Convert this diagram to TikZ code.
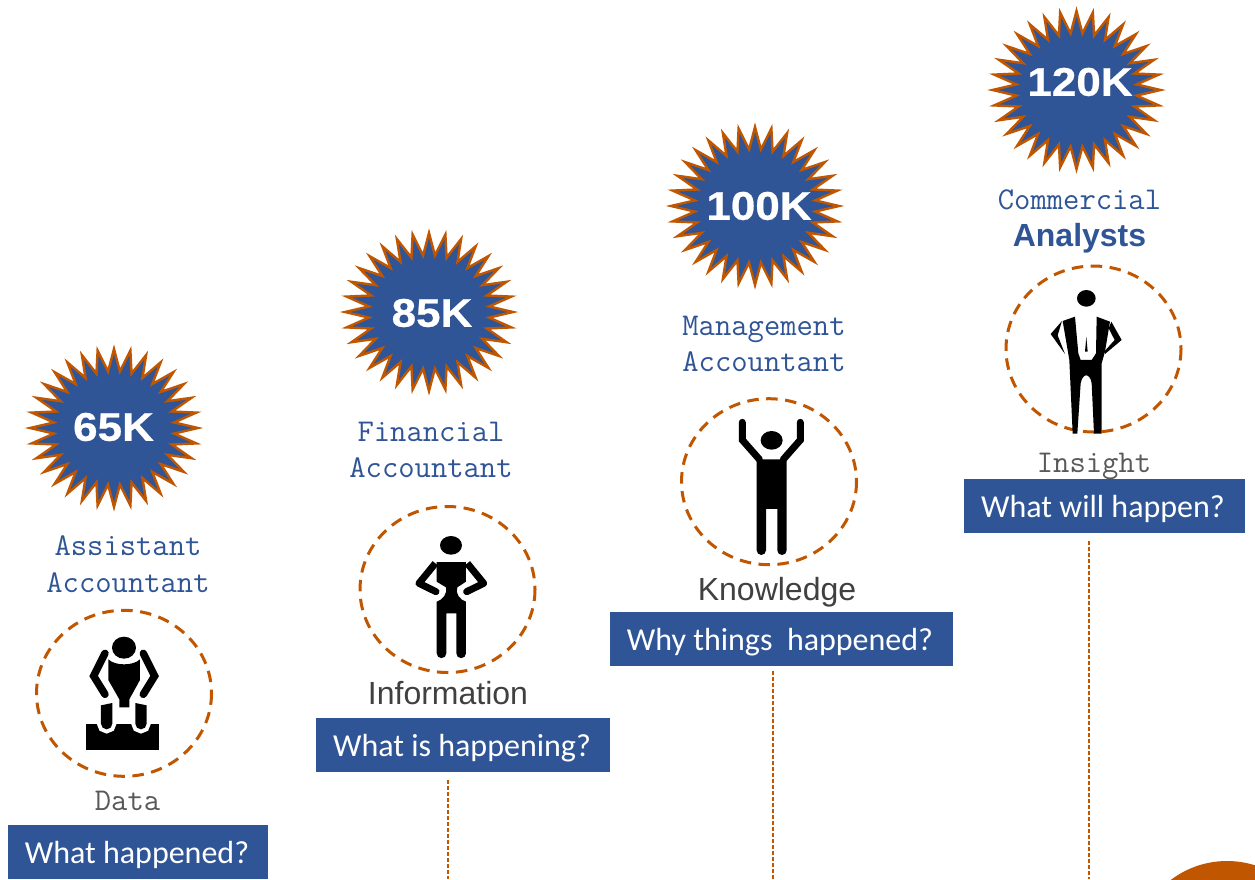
\documentclass[tikz,border=0pt]{standalone}
\usepackage{fontspec}
\setmainfont{Liberation Sans}
\newfontfamily\boxfont{Carlito}
\newfontfamily\salaryfont[FakeStretch=1.1,FakeBold=0.6]{Liberation Sans Bold}
\definecolor{nblue}{HTML}{2F5597}
\definecolor{norange}{HTML}{C05700}
\definecolor{ngray}{HTML}{404040}
\definecolor{nmid}{HTML}{595959}
\tikzset{
  qbox/.style={text=white,inner sep=0pt,font=\boxfont\fontsize{32}{36}\selectfont},
  qfill/.style={fill=nblue},
  jobtext/.style={text=nblue,align=center,inner sep=0pt,font=\ttfamily\fontsize{31.7}{36.5}\selectfont},
  stagemono/.style={text=nmid,inner sep=0pt,font=\ttfamily\fontsize{31.7}{36}\selectfont},
  stagesans/.style={text=ngray,inner sep=0pt,font=\fontsize{32}{36}\selectfont},
  salary/.style={text=white,inner sep=0pt,font=\salaryfont\fontsize{40}{46}\selectfont},
  ring/.style={draw=norange,line width=3pt,dash pattern=on 11.5pt off 7.5pt},
  guide/.style={draw=norange,line width=1.2pt,dash pattern=on 4pt off 2pt},
  burst/.style={fill=nblue,draw=norange,line width=2.4pt,miter limit=10},
  fig/.style={fill=black,draw=none},
  limb/.style={draw=black,fill=none,line cap=round,line join=miter}
}
\newcommand{\starburst}[2]{%
  \begin{scope}[shift={(#1,#2)}]
  \draw[burst] (0:84 and 79)
    \foreach \k in {1,...,63}{ -- ({\k*5.625}:{84*(0.72+0.28*mod(\k+1,2))} and {79*(0.72+0.28*mod(\k+1,2))}) } -- cycle;
  \end{scope}}
\begin{document}
\begin{tikzpicture}[x=1pt,y=-1pt]
\useasboundingbox (0,0) rectangle (1255,879);
\clip (0,0) rectangle (1255,879);
\fill[white] (0,0) rectangle (1255,879);

% corner shape
\fill[norange] (1227,954) circle (93);

% stars
\starburst{114}{428}
\starburst{429}{312}
\starburst{755}{206}
\starburst{1076.5}{90}
\node[salary] (s1) at (113.5,427) {65K};
\node[salary] (s2) at (432,313) {85K};
\node[salary] (s3) at (759,206) {100K};
\node[salary] (s4) at (1080,82) {120K};

% job labels
\node[jobtext] (j1) at (128,564) {Assistant\\Accountant};
\node[jobtext] (j2) at (431,450) {Financial\\Accountant};
\node[jobtext] (j3) at (764,344) {Management\\Accountant};
\node[jobtext] (j4) at (1079.5,221.5) {Commercial\\{\rmfamily\bfseries\fontsize{32}{36}\selectfont Analysts}};

% rings
\draw[ring] (124,693.3) ellipse (87.5 and 83);
\draw[ring] (447.5,589.5) ellipse (87.5 and 83);
\draw[ring] (769,481.7) ellipse (87.5 and 83);
\draw[ring] (1093.5,349) ellipse (87.5 and 83);

% figure 1
\begin{scope}[shift={(0,600)},x=0.3333pt,y=-0.3333pt]
  \fill[fig] (259,371) rectangle (476,449);
  \fill[fig] (372,143) ellipse (36 and 33);
  \fill[fig] (325,178) .. controls (345,198) and (400,198) .. (420,178)
    -- (420,240) -- (388,298) -- (388,322) -- (358,322) -- (358,298) -- (325,240) -- cycle;
  \draw[limb,line width=7.5pt] (315,160) -- (281,228) -- (315,283);
  \draw[limb,line width=7.5pt] (430,160) -- (464,228) -- (430,283);
  \draw[white,line width=8pt,fill=black] (303,316) -- (337,309) -- (337,371)
     arc (0:180:17) -- cycle;
  \draw[white,line width=8pt,fill=black] (406,309) -- (440,316) -- (440,371)
     arc (0:180:17) -- cycle;
  \fill[fig] (303,316) -- (337,309) -- (337,371) arc (0:180:17) -- cycle;
  \fill[fig] (406,309) -- (440,316) -- (440,371) arc (0:180:17) -- cycle;
\end{scope}

% figure 2
\begin{scope}[shift={(340,500)},x=0.3333pt,y=-0.3333pt]
  \fill[fig] (333,136) ellipse (33 and 28);
  \fill[fig] (290,186) -- (378,186) -- (378,245) -- (352,262)
    .. controls (345,280) and (360,300) .. (378,305)
    -- (378,460) arc (0:180:14.5) -- (349,340) -- (319,340) -- (319,460) arc (0:180:14.5)
    -- (290,305) .. controls (308,300) and (323,280) .. (318,262) -- (290,245) -- cycle;
  \draw[limb,line width=7pt,line cap=butt] (286,190) -- (237,250);
  \draw[limb,line width=7pt] (237,250) -- (288,275);
  \draw[limb,line width=7pt,line cap=butt] (382,190) -- (431,250);
  \draw[limb,line width=7pt] (431,250) -- (380,275);
\end{scope}

% figure 3
\begin{scope}[shift={(670,390)},x=0.3333pt,y=-0.3333pt]
  \fill[fig] (305,151) ellipse (33 and 28);
  \fill[fig] (260,208) -- (350,208) -- (350,481) arc (0:180:14) -- (322,357) -- (288,357)
    -- (288,481) arc (0:180:14) -- cycle;
  \draw[limb,line width=7pt] (217,97) -- (217,150) -- (268,208);
  \draw[limb,line width=7pt] (391,97) -- (391,150) -- (340,208);
\end{scope}

% figure 4
\begin{scope}[shift={(990,260)},x=0.3333pt,y=-0.3333pt]
  \fill[fig] (289,115) ellipse (28 and 25);
  \fill[fig] (255,170) -- (265,280) -- (272,300) -- (305,300) -- (318,280) -- (320,170)
    -- (360,185) -- (345,275) -- (335,310) -- (335,521) -- (312,521) -- (305,370)
    .. controls (300,338) and (278,338) .. (272,370) -- (262,521) -- (248,521)
    -- (238,300) -- (218,183) -- cycle;
  \fill[fig] (216,183) -- (182,222) -- (225,282) -- (203,226) -- cycle;
  \fill[fig] (364,185) -- (395,240) -- (345,282) -- (345,272) -- (374,240) -- (356,205) -- cycle;
  \fill[fig] (289,230) -- (293,275) -- (285,275) -- cycle;
\end{scope}

% stage labels
\node[stagemono] (t1) at (127.5,801) {Data};
\node[stagesans] (t2) at (448,693) {Information};
\node[stagesans] (t3) at (777,592) {Knowledge};
\node[stagemono] (t4) at (1094,466) {Insight};

% question boxes
\fill[qfill] (8,825) rectangle (268,879);
\fill[qfill] (316,718) rectangle (610,772);
\fill[qfill] (610,612) rectangle (953,666);
\fill[qfill] (964,479) rectangle (1245,533);
\node[qbox] (q1) at (137,855) {What happened?};
\node[qbox] (q2) at (462,748) {What is happening?};
\node[qbox] (q3) at (780,642) {Why things\ \ happened?};
\node[qbox] (q4) at (1103,509) {What will happen?};

% guides
\coordinate (g2a) at (448,780);
\coordinate (g2b) at (448,879);
\coordinate (g3a) at (773,671);
\coordinate (g3b) at (773,879);
\coordinate (g4a) at (1089,541);
\coordinate (g4b) at (1089,879);
\draw[guide] (g2a) -- (g2b);
\draw[guide] (g3a) -- (g3b);
\draw[guide] (g4a) -- (g4b);
\end{tikzpicture}
\end{document}
